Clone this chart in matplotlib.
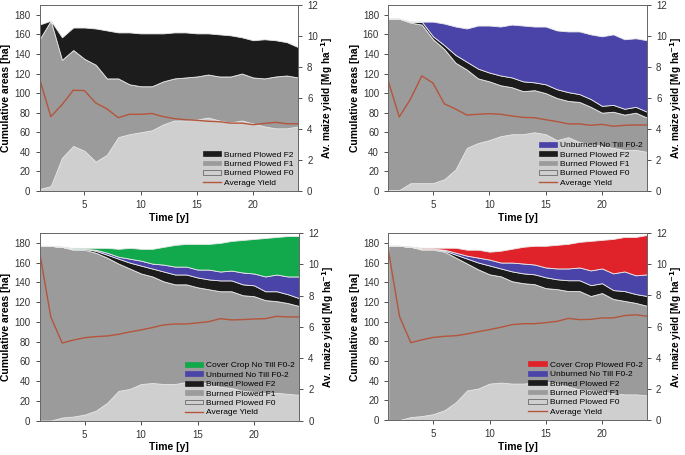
import numpy as np
import matplotlib.pyplot as plt
from matplotlib.patches import Patch
from matplotlib.lines import Line2D

plt.rcParams['font.family'] = ['Liberation Sans', 'DejaVu Sans']

years = np.arange(1, 25)

# cumulative tops of each stacked area [ha]
p1_f0 = [2, 5, 34, 46, 41, 30, 37, 55, 58, 60, 62, 68, 72, 72, 73, 75, 72, 70, 72, 69, 66, 64, 64, 66]
p1_f1 = [155, 174, 134, 144, 135, 129, 115, 115, 109, 107, 107, 112, 115, 116, 117, 119, 117, 117, 120, 116, 115, 117, 118, 116]
p1_f2 = [170, 174, 157, 167, 167, 166, 164, 162, 162, 161, 161, 161, 162, 162, 161, 161, 160, 159, 157, 154, 155, 154, 152, 147]
p1_yield = [7.26, 4.8, 5.57, 6.5, 6.48, 5.68, 5.3, 4.73, 4.95, 4.95, 5.0, 4.8, 4.67, 4.6, 4.56, 4.5, 4.47, 4.38, 4.38, 4.28, 4.36, 4.43, 4.34, 4.34]

p2_f0 = [1, 1, 8, 8, 8, 12, 22, 44, 49, 52, 56, 58, 58, 60, 58, 52, 55, 50, 48, 46, 44, 42, 42, 40]
p2_f1 = [176, 176, 172, 170, 155, 145, 131, 124, 115, 112, 108, 106, 102, 103, 100, 95, 92, 91, 86, 80, 81, 78, 80, 75]
p2_f2 = [176, 176, 173, 173, 158, 149, 139, 132, 125, 121, 118, 116, 112, 111, 109, 104, 101, 99, 94, 87, 88, 84, 86, 81]
p2_nt = [176, 176, 173, 173, 173, 171, 168, 166, 169, 169, 168, 170, 169, 168, 168, 164, 163, 163, 160, 158, 160, 155, 156, 154]
p2_yield = [7.15, 4.78, 5.93, 7.43, 6.96, 5.63, 5.29, 4.9, 4.95, 4.99, 4.95, 4.84, 4.75, 4.73, 4.6, 4.48, 4.33, 4.33, 4.24, 4.3, 4.18, 4.24, 4.26, 4.26]

p3_f0 = [0, 0, 3, 4, 6, 10, 18, 30, 32, 37, 38, 37, 37, 39, 40, 37, 34, 33, 30, 29, 28, 28, 27, 26]
p3_f1 = [177, 177, 176, 173, 173, 170, 165, 159, 154, 149, 146, 141, 138, 138, 135, 133, 131, 131, 127, 126, 122, 121, 119, 116]
p3_f2 = [177, 177, 176, 174, 174, 172, 168, 164, 160, 157, 154, 151, 148, 148, 145, 143, 142, 142, 138, 137, 131, 131, 128, 124]
p3_nt = [177, 177, 176, 174, 174, 173, 170, 166, 164, 162, 159, 158, 156, 156, 153, 153, 151, 152, 150, 149, 146, 148, 146, 146]
p3_cc = [177, 177, 176, 175, 175, 175, 175, 174, 175, 174, 174, 176, 178, 179, 179, 179, 180, 182, 183, 184, 185, 186, 187, 187]
p3_yield = [10.8, 6.63, 4.96, 5.15, 5.3, 5.37, 5.41, 5.52, 5.67, 5.8, 5.95, 6.12, 6.18, 6.18, 6.25, 6.33, 6.52, 6.44, 6.46, 6.5, 6.52, 6.67, 6.63, 6.63]

p4_f0 = [0, 0, 3, 4, 6, 10, 18, 30, 32, 37, 38, 37, 37, 38, 39, 37, 34, 31, 30, 29, 27, 26, 26, 25]
p4_f1 = [177, 177, 176, 173, 173, 171, 165, 159, 153, 148, 146, 141, 139, 138, 134, 133, 131, 131, 126, 129, 123, 121, 119, 116]
p4_f2 = [177, 177, 176, 174, 174, 172, 168, 164, 160, 157, 154, 151, 149, 148, 145, 143, 142, 142, 137, 139, 132, 131, 128, 126]
p4_nt = [177, 177, 176, 174, 174, 173, 170, 167, 165, 163, 160, 160, 159, 158, 155, 154, 154, 155, 152, 154, 149, 151, 147, 148]
p4_cc = [177, 177, 176, 175, 175, 175, 175, 173, 173, 171, 172, 174, 176, 177, 177, 178, 179, 181, 182, 183, 184, 186, 186, 188]
p4_yield = [10.9, 6.63, 4.96, 5.15, 5.3, 5.37, 5.41, 5.52, 5.67, 5.8, 5.95, 6.12, 6.18, 6.18, 6.25, 6.33, 6.52, 6.44, 6.46, 6.55, 6.55, 6.7, 6.75, 6.66]

C_F0 = '#cfcfd0'
C_F1 = '#9b9b9c'
C_F2 = '#1c1c1c'
C_NT = '#4a44a8'
C_CCNT = '#12a84c'
C_CCP = '#e0232a'
C_Y = '#b4553c'

fig = plt.figure(figsize=(6.85, 4.55), dpi=100)
boxes = [[0.0577, 0.5802, 0.3774, 0.4088],
         [0.5664, 0.5802, 0.3781, 0.4088],
         [0.0577, 0.0758, 0.3791, 0.4120],
         [0.5669, 0.0769, 0.3776, 0.4110]]

panels = [
    ([p1_f0, p1_f1, p1_f2], [C_F0, C_F1, C_F2],
     ['Burned Plowed F0', 'Burned Plowed F1', 'Burned Plowed F2'], p1_yield),
    ([p2_f0, p2_f1, p2_f2, p2_nt], [C_F0, C_F1, C_F2, C_NT],
     ['Burned Plowed F0', 'Burned Plowed F1', 'Burned Plowed F2', 'Unburned No Till F0-2'], p2_yield),
    ([p3_f0, p3_f1, p3_f2, p3_nt, p3_cc], [C_F0, C_F1, C_F2, C_NT, C_CCNT],
     ['Burned Plowed F0', 'Burned Plowed F1', 'Burned Plowed F2', 'Unburned No Till F0-2',
      'Cover Crop No Till F0-2'], p3_yield),
    ([p4_f0, p4_f1, p4_f2, p4_nt, p4_cc], [C_F0, C_F1, C_F2, C_NT, C_CCP],
     ['Burned Plowed F0', 'Burned Plowed F1', 'Burned Plowed F2', 'Unburned No Till F0-2',
      'Cover Crop Plowed F0-2'], p4_yield),
]

for box, (tops, colors, labels, yld) in zip(boxes, panels):
    ax = fig.add_axes(box)
    lower = np.zeros(len(years))
    for top, col in zip(tops, colors):
        top = np.array(top, dtype=float)
        ax.fill_between(years, lower, top, color=col, lw=0.6,
                        edgecolor='#e8e8e8' if col != C_F0 else C_F0)
        lower = top
    ax.set_xlim(1, 24)
    ax.set_ylim(0, 190)
    ax.set_xticks([5, 10, 15, 20])
    ax.set_yticks(range(0, 181, 20))
    ax.tick_params(labelsize=7, length=3, width=0.6, colors='#333333')
    for s in ax.spines.values():
        s.set_color('#666666')
        s.set_linewidth(0.6)
    ax.set_xlabel('Time [y]', fontsize=7.5, fontweight='bold', labelpad=2)
    ax.set_ylabel('Cumulative areas [ha]', fontsize=7.5, fontweight='bold', labelpad=2)

    ax2 = ax.twinx()
    ax2.plot(years, yld, color=C_Y, lw=1.0)
    ax2.set_ylim(0, 12)
    ax2.set_yticks(range(0, 13, 2))
    ax2.tick_params(labelsize=7, length=3, width=0.6, colors='#333333')
    for s in ax2.spines.values():
        s.set_color('#666666')
        s.set_linewidth(0.6)
    ax2.set_ylabel('Av. maize yield [Mg ha$^{\\mathbf{-1}}$]', fontsize=7.2,
                   fontweight='bold', labelpad=1)

    handles = [Line2D([0], [0], color=C_Y, lw=1.0)]
    names = ['Average Yield']
    for col, lab in zip(colors, labels):
        edge = '#555555' if col in (C_F0,) else col
        handles.insert(0, Patch(facecolor=col, edgecolor=edge, lw=0.5))
        names.insert(0, lab)
    ax2.legend(handles, names, loc='lower right', frameon=False, fontsize=6.0,
               handlelength=2.25, handleheight=0.5, labelspacing=0.25,
               borderaxespad=0.2, handletextpad=0.35, borderpad=0.3)

fig.savefig('out.png', dpi=100)
